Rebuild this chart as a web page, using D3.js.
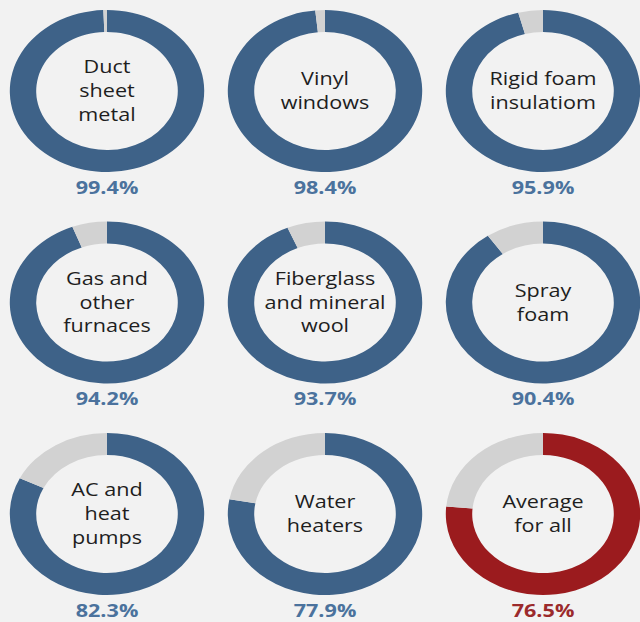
<!DOCTYPE html>
<html>
<head>
<meta charset="utf-8">
<script src="https://cdn.jsdelivr.net/npm/d3@7"></script>
<style>
  body { margin: 0; background: #f2f2f2; }
  svg { display: block; }
</style>
</head>
<body>
<svg id="canvas"></svg>
<script>
// chart data
let categories = [
  ['Duct', 'sheet', 'metal'],
  ['Vinyl', 'windows'],
  ['Rigid foam', 'insulatiom'],
  ['Gas and', 'other', 'furnaces'],
  ['Fiberglass', 'and mineral', 'wool'],
  ['Spray', 'foam'],
  ['AC and', 'heat', 'pumps'],
  ['Water', 'heaters'],
  ['Average', 'for all']
]
let values = [99.4, 98.4, 95.9, 94.2, 93.7, 90.4, 82.3, 77.9, 76.5]
let highlight = [false, false, false, false, false, false, false, false, true]

let width = 640
let height = 622
let stretch = 1.2

let canvas = d3.select('#canvas')
canvas.attr('width', width)
      .attr('height', height)

let xPos = d3.scalePoint().domain([0, 1, 2]).range([107, 543])
let yPos = d3.scalePoint().domain([0, 1, 2]).range([91, 514])

let pie = d3.pie().sort(null).value(d => d)
let arc = d3.arc().innerRadius(59).outerRadius(81)

let cells = canvas.selectAll('g.cell')
  .data(values)
  .enter()
  .append('g')
  .attr('class', 'cell')
  .attr('transform', (d, i) => 'translate(' + xPos(i % 3) + ',' + yPos(Math.floor(i / 3)) + ') scale(' + stretch + ',1)')

cells.selectAll('path')
  .data((d, i) => pie([d, 100 - d]).map(p => ({ p: p, i: i })))
  .enter()
  .append('path')
  .attr('d', d => arc(d.p))
  .attr('fill', d => d.p.index === 1 ? '#d2d2d2' : (highlight[d.i] ? '#9b1b1e' : '#3e6288'))

/* labels in the middle */
cells.each(function (d, i) {
  let lines = categories[i]
  let t = d3.select(this).append('text')
    .attr('text-anchor', 'middle')
    .attr('font-family', 'Open Sans, sans-serif')
    .attr('font-size', 18)
    .attr('fill', '#1e1e1e')
  lines.forEach((s, k) => {
    t.append('tspan')
      .attr('x', 0)
      .attr('y', (k - (lines.length - 1) / 2) * 24 + 6)
      .text(s)
  })
})

/* percentage below */
cells.append('text')
  .attr('text-anchor', 'middle')
  .attr('font-family', 'Open Sans, sans-serif')
  .attr('font-weight', 'bold')
  .attr('font-size', 18)
  .attr('y', 103)
  .attr('fill', (d, i) => highlight[i] ? '#9b2a2c' : '#4b729d')
  .text(d => d.toFixed(1) + '%')
</script>
</body>
</html>
